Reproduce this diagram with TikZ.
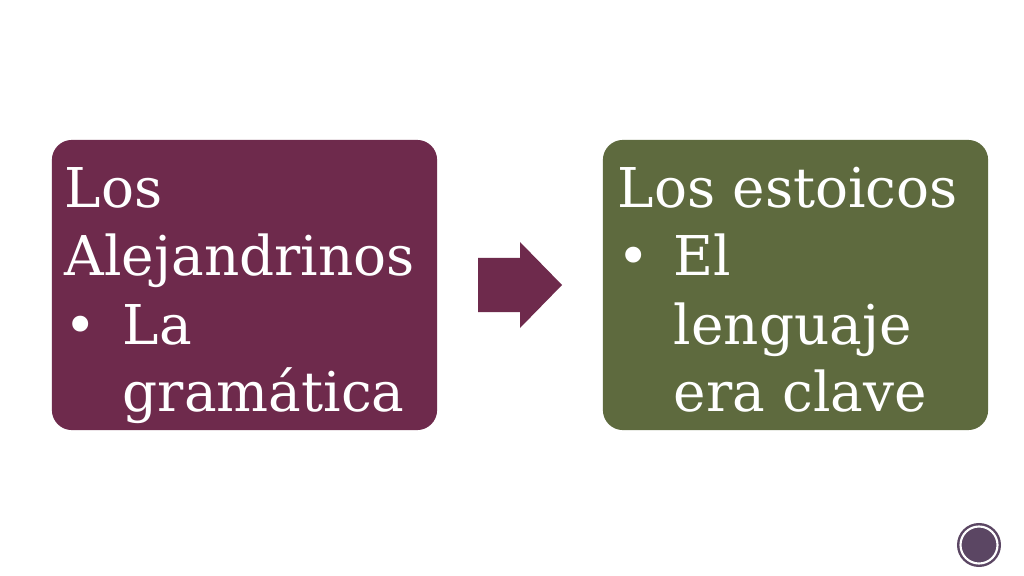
\documentclass[tikz,border=0pt]{standalone}
\usepackage{fontspec}
\setmainfont{DejaVu Serif}
\definecolor{maroon}{HTML}{6E2A4C}
\definecolor{olive}{HTML}{5E6A3E}
\definecolor{dotc}{HTML}{5B4663}
\begin{document}
\begin{tikzpicture}[x=0.01cm,y=-0.01cm,
  card/.style={minimum width=3.85cm,minimum height=2.9cm,rounded corners=0.2cm,inner sep=0pt},
  txt/.style={anchor=base west,text=white,inner sep=0pt,font=\fontsize{15.6pt}{18pt}\selectfont}]
\useasboundingbox (0,0) rectangle (1024,576);
\fill[white] (0,0) rectangle (1024,576);
\node[card,fill=maroon] (left) at (244.5,285) {};
\node[card,fill=olive] (right) at (795.5,285) {};
\fill[maroon] (478,258) -- (520,258) -- (520,242) -- (562,285) -- (520,328) -- (520,312) -- (478,312) -- cycle;
\node[circle,fill=dotc,minimum size=0.44cm,inner sep=0pt] (page) at (979,545) {};
\draw[white,line width=0.6pt] (page.center) circle (0.185cm);
\node[txt] (l1) at (64,208) {Los};
\node[txt] (l2) at (64,276) {Alejandrinos};
\node[txt] (lb) at (64,344) {•};
\node[txt] (l3) at (122,344) {La};
\node[txt] (l4) at (122,411) {gramática};
\node[txt] (r1) at (617,208) {Los estoicos};
\node[txt] (rb) at (617,276) {•};
\node[txt] (r2) at (673,276) {El};
\node[txt] (r3) at (673,344) {lenguaje};
\node[txt] (r4) at (673,411) {era clave};
\end{tikzpicture}
\end{document}
